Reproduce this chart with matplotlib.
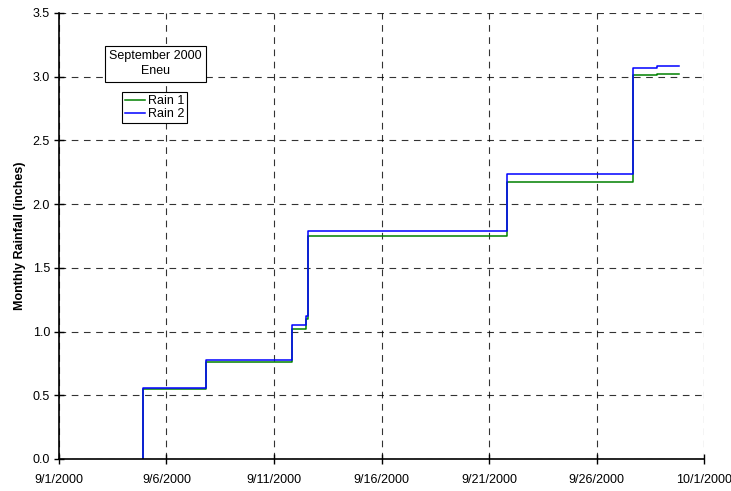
import datetime as dt
import matplotlib
matplotlib.use("Agg")
import matplotlib.pyplot as plt

plt.rcParams['font.family'] = ['Liberation Sans', 'DejaVu Sans']

# days after 9/1/2000 00:00 where each reading changes
step_days = [3.90, 3.92, 6.84, 10.84, 11.47, 11.58, 20.82, 26.68, 27.81, 28.85]
rain1 = [0.0, 0.55, 0.76, 1.02, 1.10, 1.75, 2.17, 3.01, 3.02, 3.02]
rain2 = [0.0, 0.56, 0.78, 1.05, 1.12, 1.79, 2.24, 3.07, 3.085, 3.085]

start = dt.datetime(2000, 9, 1)
times = [start + dt.timedelta(days=d) for d in step_days]
tick_dates = [start + dt.timedelta(days=5 * i) for i in range(6)] + [dt.datetime(2000, 10, 1)]

fig = plt.figure(figsize=(7.31, 4.91), dpi=100)
ax = fig.add_axes([0.0807, 0.0652, 0.8824, 0.9084])

ax.plot(times, rain1, drawstyle='steps-post', color='#008000', lw=1.1, label='Rain 1')
ax.plot(times, rain2, drawstyle='steps-post', color='#0000ff', lw=1.1, label='Rain 2')

ax.set_xlim(start, dt.datetime(2000, 10, 1))
ax.set_ylim(0, 3.5)
ax.set_xticks(tick_dates)
ax.set_xticklabels([f"{d.month}/{d.day}/{d.year}" for d in tick_dates])
ax.set_yticks([i * 0.5 for i in range(8)])
ax.yaxis.set_major_formatter(matplotlib.ticker.FormatStrFormatter('%.1f'))
ax.tick_params(direction='inout', length=7, width=1, labelsize=9, colors='black')
ax.tick_params(axis='x', pad=7)
ax.tick_params(axis='y', pad=3)

ax.grid(True, color='black', linestyle=(0, (6, 5)), linewidth=0.8, alpha=0.8)
ax.set_axisbelow(True)
for s in ['top', 'right']:
    ax.spines[s].set_visible(False)
for s in ['left', 'bottom']:
    ax.spines[s].set_linewidth(1.2)

ax.set_ylabel('Monthly Rainfall (inches)', fontsize=9, fontweight='bold', labelpad=5)

ax.text(0.150, 0.886, 'September 2000\nEneu', transform=ax.transAxes, ha='center', va='center',
        fontsize=9, linespacing=1.35,
        bbox=dict(boxstyle='square,pad=0.35', facecolor='white', edgecolor='black', lw=0.8))

leg = ax.legend(loc='upper left', bbox_to_anchor=(0.098, 0.823), fontsize=9, frameon=True,
                fancybox=False, framealpha=1, edgecolor='black', handlelength=1.6,
                handletextpad=0.2, borderpad=0.25, labelspacing=0.1, borderaxespad=0)
leg.get_frame().set_linewidth(0.8)

fig.savefig('out.png', dpi=100)
